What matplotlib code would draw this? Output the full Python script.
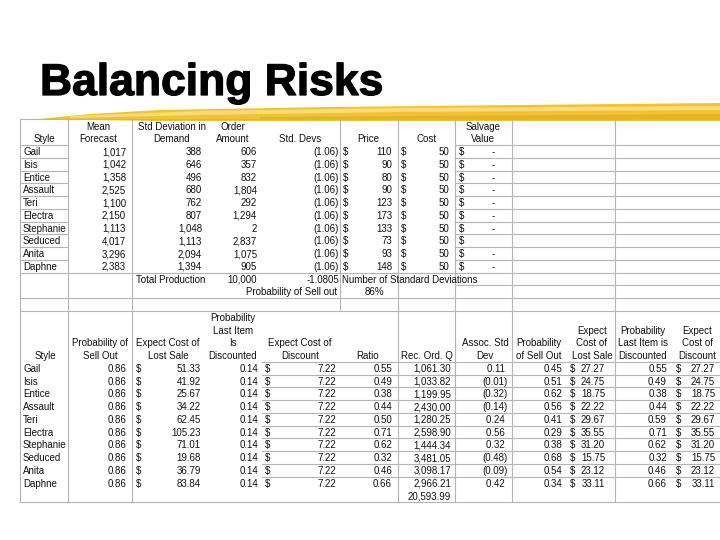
import matplotlib
matplotlib.use("Agg")
import matplotlib.pyplot as plt
from matplotlib.patches import Polygon, Rectangle
import matplotlib.patheffects as pe

# ---------------- data ----------------
styles = ["Gail", "Isis", "Entice", "Assault", "Teri", "Electra",
          "Stephanie", "Seduced", "Anita", "Daphne"]
mean_forecast = [1017, 1042, 1358, 2525, 1100, 2150, 1113, 4017, 3296, 2383]
std_demand = [388, 646, 496, 680, 762, 807, 1048, 1113, 2094, 1394]
order_amount = [606, 357, 832, 1804, 292, 1294, 2, 2837, 1075, 905]
std_devs = [-1.06] * 10
price = [110, 90, 80, 90, 123, 173, 133, 73, 93, 148]
cost = [50] * 10
salvage = [0, 0, 0, 0, 0, 0, 0, None, 0, 0]
total_production = 10000
num_std_devs = -1.0805
prob_sell_out_total = 0.86

prob_sell_out = [0.86] * 10
exp_cost_lost = [51.33, 41.92, 25.67, 34.22, 62.45, 105.23, 71.01, 19.68, 36.79, 83.84]
prob_last_disc = [0.14] * 10
exp_cost_disc = [7.22] * 10
ratio = [0.55, 0.49, 0.38, 0.44, 0.50, 0.71, 0.62, 0.32, 0.46, 0.66]
rec_ord_q = [1061.30, 1033.82, 1199.95, 2430.00, 1280.25, 2598.90, 1444.34,
             3481.05, 3098.17, 2966.21]
rec_ord_total = 20593.99
assoc_std = [0.11, -0.01, -0.32, -0.14, 0.24, 0.56, 0.32, -0.48, -0.09, 0.42]
prob_sell_out2 = [0.45, 0.51, 0.62, 0.56, 0.41, 0.29, 0.38, 0.68, 0.54, 0.34]
exp_cost_lost2 = [27.27, 24.75, 18.75, 22.22, 29.67, 35.55, 31.20, 15.75, 23.12, 33.11]
prob_last_disc2 = [0.55, 0.49, 0.38, 0.44, 0.59, 0.71, 0.62, 0.32, 0.46, 0.66]
exp_cost_disc2 = [27.27, 24.75, 18.75, 22.22, 29.67, 35.55, 31.20, 15.75, 23.12, 33.11]

title = "Balancing Risks"

# ---------------- layout helpers ----------------
FONT = "Liberation Sans"
FS = 7.0
GRID = "#b4b4b4"
ROW0, STEP = 126.0, 12.75


def ry(k):
    return ROW0 + k * STEP


def rb(k):
    return ROW0 + (k - 0.5) * STEP


fig = plt.figure(figsize=(7.2, 5.4), dpi=100)
ax = fig.add_axes([0, 0, 1, 1])
ax.set_xlim(0, 720)
ax.set_ylim(540, 0)
ax.axis("off")


def txt(x, k, s, ha="right", clip=None):
    t = ax.text(x, ry(k) + 3.7, s, ha=ha, va="baseline", fontsize=FS,
                family=FONT, color="#111111", zorder=5)
    if clip is not None:
        t.set_clip_path(Rectangle((clip[0], rb(k)), clip[1] - clip[0], STEP,
                                  transform=ax.transData))
    return t


def hdr(x, k, lines):
    for i, s in enumerate(lines):
        txt(x, k - (len(lines) - 1) + i, s, ha="center")


def fint(v):
    return f"{v:,.0f}"


def f2(v):
    return f"{v:,.2f}"


def fpar(v):
    return f"({abs(v):.2f})" if v < 0 else f"{v:.2f} "


# ---------------- yellow brush stroke ----------------
ax.add_patch(Polygon([(38, 119), (90, 114), (160, 110), (330, 107), (520, 105), (720, 103),
                      (720, 121), (520, 121), (330, 121), (160, 121), (90, 120), (38, 120)],
                     closed=True, facecolor="#f2c230", edgecolor="none", zorder=1))
ax.add_patch(Polygon([(70, 116), (200, 111), (400, 108), (720, 106),
                      (720, 110), (400, 112), (200, 115), (70, 118)],
                     closed=True, facecolor="#f8dc78", edgecolor="none", zorder=1.1))
ax.add_patch(Polygon([(260, 117), (720, 114), (720, 119), (260, 120)],
                     closed=True, facecolor="#e8b418", edgecolor="none", zorder=1.1))

ax.text(40, 95, title, ha="left", va="baseline", fontsize=32, fontweight="bold",
        family=FONT, color="black", zorder=5,
        path_effects=[pe.withStroke(linewidth=0.9, foreground="black")])

# ---------------- grid lines ----------------
top_y0, mid_y, bot_y = rb(0) - 0.5, rb(15), rb(30)
lw = 0.8
ax.plot([20, 720], [top_y0, top_y0], color=GRID, lw=lw, zorder=2)
ax.plot([20, 20], [top_y0, bot_y], color=GRID, lw=lw, zorder=2)
ax.plot([20, 720], [bot_y, bot_y], color=GRID, lw=lw, zorder=2)
for x in [68, 132, 340, 398, 455, 512, 615]:
    ax.plot([x, x], [top_y0, mid_y], color=GRID, lw=lw, zorder=2)
for x in [68, 132, 398, 455, 512, 615]:
    ax.plot([x, x], [mid_y, bot_y], color=GRID, lw=lw, zorder=2)
for k in range(2, 12):
    ax.plot([20, 68], [rb(k), rb(k)], color=GRID, lw=lw, zorder=2)
    ax.plot([455, 720], [rb(k), rb(k)], color=GRID, lw=lw, zorder=2)
for k in [12, 14, 15]:
    ax.plot([20, 720], [rb(k), rb(k)], color=GRID, lw=lw, zorder=2)
ax.plot([455, 720], [rb(13), rb(13)], color=GRID, lw=lw, zorder=2)
for k in range(19, 29):
    ax.plot([262, 720], [rb(k), rb(k)], color=GRID, lw=lw, zorder=2)

# ---------------- top table ----------------
hdr(44, 1, ["Style"])
hdr(98, 1, ["Mean", "Forecast"])
hdr(172, 1, ["Std Deviation in", "Demand"])
hdr(233, 1, ["Order", "Amount"])
hdr(300, 1, ["Std. Devs"])
hdr(368, 1, ["Price"])
hdr(427, 1, ["Cost"])
hdr(483, 1, ["Salvage", "Value"])

for i, name in enumerate(styles):
    k = 2 + i
    txt(23, k, name, ha="left", clip=(20, 67))
    txt(126, k, fint(mean_forecast[i]))
    txt(202, k, fint(std_demand[i]))
    txt(257, k, fint(order_amount[i]))
    txt(339, k, fpar(std_devs[i]))
    txt(343, k, "$", ha="left")
    txt(392, k, fint(price[i]))
    txt(401, k, "$", ha="left")
    txt(449, k, fint(cost[i]))
    txt(459, k, "$", ha="left")
    if salvage[i] is not None:
        txt(495, k, "-" if salvage[i] == 0 else fint(salvage[i]))

txt(136, 12, "Total Production", ha="left")
txt(257, 12, fint(total_production))
txt(339, 12, f"{num_std_devs:.4f}")
txt(342, 12, "Number of Standard Deviations", ha="left")
txt(337, 13, "Probability of Sell out")
txt(384, 13, f"{prob_sell_out_total:.0%}")

# ---------------- bottom table ----------------
hdr(45, 18, ["Style"])
hdr(100, 18, ["Probability of", "Sell Out"])
hdr(168, 18, ["Expect Cost of", "Lost Sale"])
hdr(233, 18, ["Probability", "Last Item", "Is", "Discounted"])
hdr(300, 18, ["Expect Cost of", "Discount"])
hdr(368, 18, ["Ratio"])
hdr(427, 18, ["Rec. Ord. Q"])
hdr(485, 18, ["Assoc. Std", "Dev"])
hdr(539, 18, ["Probability", "of Sell Out"])
hdr(592, 18, ["Expect", "Cost of", "Lost Sale"])
hdr(643, 18, ["Probability", "Last Item is", "Discounted"])
hdr(697, 18, ["Expect", "Cost of", "Discount"])

for i, name in enumerate(styles):
    k = 19 + i
    txt(23, k, name, ha="left")
    txt(126, k, f2(prob_sell_out[i]))
    txt(136, k, "$", ha="left")
    txt(201, k, f2(exp_cost_lost[i]))
    txt(258, k, f2(prob_last_disc[i]))
    txt(265, k, "$", ha="left")
    txt(336, k, f2(exp_cost_disc[i]))
    txt(392, k, f2(ratio[i]))
    txt(451, k, f2(rec_ord_q[i]))
    txt(508, k, fpar(assoc_std[i]))
    txt(562, k, f2(prob_sell_out2[i]))
    txt(570, k, "$", ha="left")
    txt(605, k, f2(exp_cost_lost2[i]))
    txt(667, k, f2(prob_last_disc2[i]))
    txt(676, k, "$", ha="left")
    txt(715, k, f2(exp_cost_disc2[i]))

txt(451, 29, f2(rec_ord_total))

fig.savefig("out.png", dpi=100)
